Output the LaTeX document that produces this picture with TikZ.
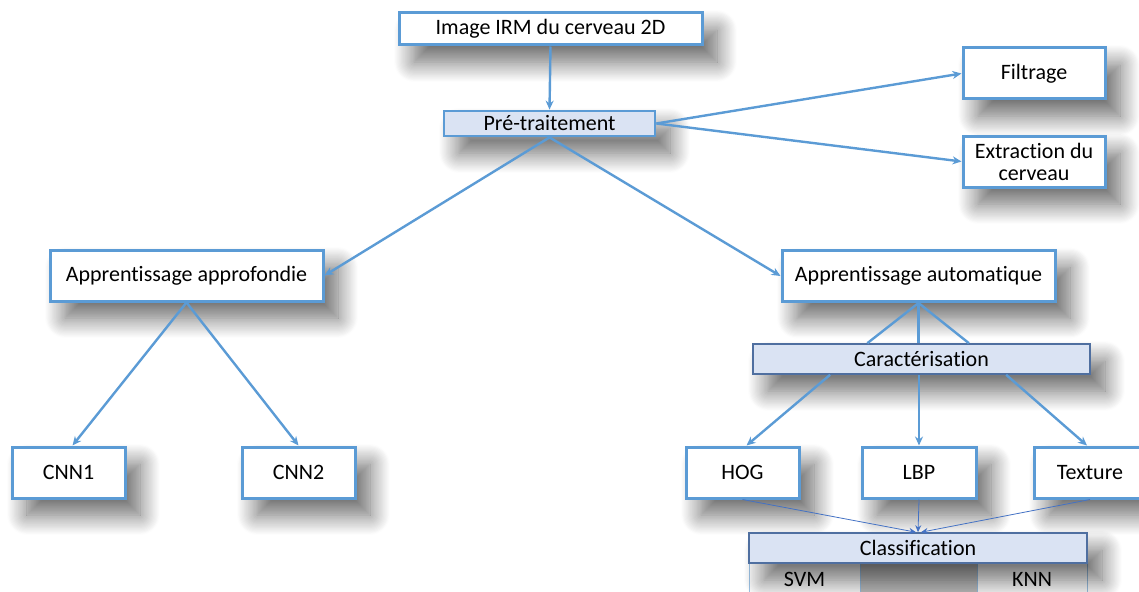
\documentclass[tikz,border=0pt]{standalone}
\usepackage{fontspec}
\setmainfont{Carlito}[Ligatures=NoCommon]
\usetikzlibrary{arrows.meta,calc,shadows.blur}
\definecolor{lblue}{HTML}{5B9BD5}
\definecolor{dblue}{HTML}{4472C4}
\definecolor{hfill}{HTML}{DAE3F3}
\definecolor{hborder}{HTML}{4F6FA0}
\definecolor{cellb}{HTML}{9DC3E6}
\tikzset{
  shad/.style={blur shadow={shadow xshift=15pt,shadow yshift=-17pt,shadow blur radius=20pt,shadow blur steps=18,shadow opacity=60}},
  boxw/.style={draw=lblue,line width=3pt,fill=white,inner sep=0pt,align=center,shad},
  boxh/.style={draw=lblue,line width=2.8pt,fill=hfill,inner sep=0pt,align=center,shad},
  boxc/.style={draw=hborder,line width=1.6pt,fill=hfill,inner sep=0pt,align=center,shad},
  cell/.style={draw=cellb,line width=1.2pt,fill=white,inner sep=0pt,align=center},
  conn/.style={draw=lblue,line width=2.4pt},
  arr/.style={conn,-{Stealth[length=9pt,width=8pt]}},
  thin/.style={draw=dblue,line width=0.8pt,-{Stealth[length=7pt,width=6pt]}},
}
\begin{document}
\begin{tikzpicture}[x=1pt,y=-1pt,font=\fontsize{22}{25}\selectfont]
\useasboundingbox (0,0) rectangle (1139,591);
\node[boxw,minimum width=303,minimum height=32] (img) at (550.5,29) {Image IRM du cerveau 2D};
\node[boxh,minimum width=211,minimum height=25] (pre) at (549.5,123.5) {Pré-traitement};
\node[boxw,minimum width=142,minimum height=51] (fil) at (1034,73.5) {Filtrage};
\node[boxw,minimum width=142,minimum height=51] (ext) at (1034,161.5) {Extraction du\\[-3pt]cerveau};
\node[boxw,minimum width=273,minimum height=51] (apa) at (186.5,275.5) {Apprentissage approfondie};
\node[boxw,minimum width=273,minimum height=51] (apb) at (918.5,276) {Apprentissage automatique};
\node[boxc,minimum width=337,minimum height=30] (car) at (921.5,359) {Caractérisation};
\node[boxw,minimum width=113,minimum height=51] (hog) at (742.5,472.5) {HOG};
\node[boxw,minimum width=114,minimum height=51] (lbp) at (919,472.5) {LBP};
\node[boxw,minimum width=112,minimum height=51] (tex) at (1090,472.5) {Texture};
\node[boxw,minimum width=113,minimum height=51] (cnn1) at (68.5,472.5) {CNN1};
\node[boxw,minimum width=113,minimum height=51] (cnn2) at (298.5,472.5) {CNN2};
% classification table
\fill[gray!50] (860,563) rectangle (977,600);
\node[cell,minimum width=111,minimum height=40,anchor=north west] (svm) at (749,563) {};
\node[anchor=base,inner sep=0pt] (svmt) at (804.5,586) {SVM};
\node[cell,minimum width=110,minimum height=40,anchor=north west] (knn) at (977,563) {};
\node[anchor=base,inner sep=0pt] (knnt) at (1032,586) {KNN};
\node[boxc,minimum width=338,minimum height=30] (cla) at (918,548) {Classification};
% connectors
\draw[arr] (img.south) -- (pre.north);
\draw[arr] (pre.east) -- (fil.west);
\draw[arr] (pre.east) -- (ext.west);
\draw[arr] (pre.south) -- (apa.east);
\draw[arr] (pre.south) -- (apb.west);
\draw[arr] (apa.south) -- ($(cnn1.north)+(4,0)$);
\draw[arr] (apa.south) -- (cnn2.north);
\draw[conn] (apb.south) -- ($(car.north west)!0.34!(car.north east)$);
\draw[conn] (apb.south) -- (apb.south |- car.north);
\draw[conn] (apb.south) -- ($(car.north west)!0.64!(car.north east)$);
\draw[arr] ($(car.south west)!0.23!(car.south east)$) -- ($(hog.north)+(4,0)$);
\draw[arr] (lbp.north |- car.south) -- (lbp.north);
\draw[arr] ($(car.south west)!0.75!(car.south east)$) -- ($(tex.north)+(-3,0)$);
\draw[thin] (hog.south) -- ($(cla.north)+(-2,0)$);
\draw[thin] (lbp.south) -- (cla.north);
\draw[thin] (tex.south) -- ($(cla.north)+(3,0)$);
\end{tikzpicture}
\end{document}
